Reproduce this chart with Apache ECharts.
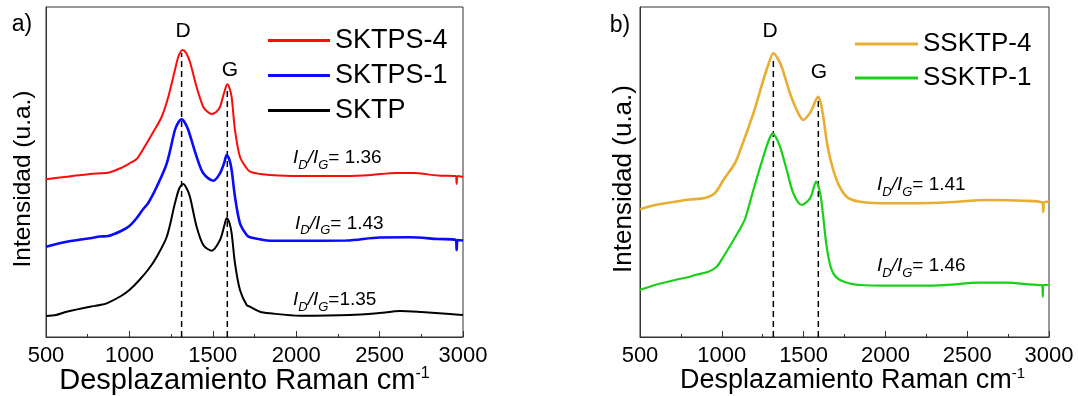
<!DOCTYPE html>
<html>
<head>
<meta charset="utf-8">
<script src="https://cdn.jsdelivr.net/npm/echarts@6/dist/echarts.min.js"></script>
<style>
html,body{margin:0;padding:0;background:#fff;}
#c{width:1078px;height:396px;}
</style>
</head>
<body>
<div id="c"></div>
<script>
// x ticks
const xTicks = [500, 1000, 1500, 2000, 2500, 3000];
// Panel a) spectra [Raman shift cm-1, intensity a.u. (offset)]
const sktps4 = [[500,157.7],[624,160.3],[764,163],[824,163.7],[873,164.3],[950,169],[1000,173.5],[1043,178],[1083,188],[1143,205],[1193,220],[1233,240],[1273,267],[1295,281],[1319,287],[1340,284],[1363,275],[1403,250],[1443,230],[1470,225],[1493,223],[1520,225],[1543,230],[1567,243.7],[1587,252.7],[1600,249],[1613,240],[1633,207],[1663,180],[1703,168.7],[1723,165.3],[1783,163],[1843,162],[2000,161],[2300,161],[2450,162],[2600,164],[2700,164],[2850,161.5],[2956,161],[2962,153],[2967,161],[3000,160]];
const sktps1 = [[500,90.3],[624,95.3],[764,98.7],[824,100.5],[873,101],[950,106],[1000,111],[1043,118.7],[1083,128],[1113,134],[1164,150.3],[1224,173.7],[1273,207],[1295,215],[1313,217.7],[1330,215],[1353,207],[1403,180.3],[1443,163.7],[1503,156.3],[1543,163.7],[1570,175],[1583,182],[1600,177],[1613,167],[1633,140.3],[1663,113.7],[1703,102],[1723,99.7],[1783,97.7],[1843,96.3],[2000,96.3],[2300,96.5],[2500,99.5],[2680,99.7],[2850,98],[2956,97],[2962,87],[2967,97],[3000,96.5]];
const sktp = [[500,21],[560,22],[624,25.3],[764,30.3],[824,32],[864,33.7],[950,41],[1000,47],[1060,57],[1120,69],[1164,80.3],[1224,100.3],[1273,133.7],[1300,149],[1323,153],[1345,148],[1363,140.3],[1403,110.3],[1443,92],[1493,86.3],[1543,97],[1570,112],[1583,118.7],[1600,114],[1613,103.7],[1633,73.7],[1663,47],[1703,32],[1723,30.3],[1783,25.3],[1843,23.7],[2023,21.3],[2323,22],[2500,24],[2622,26],[2750,25],[2922,23],[3000,22]];
// Panel b) spectra
const ssktp4 = [[500,127.7],[592,132],[714,135.3],[806,137.5],[897,139],[958,144],[1010,157],[1081,174],[1111,186],[1193,223.7],[1254,257],[1290,275],[1315,283.7],[1340,279],[1366,270.3],[1417,243.7],[1458,227],[1498,217],[1530,222],[1549,227],[1575,237],[1590,240.3],[1605,234],[1620,220.3],[1651,187],[1702,157],[1763,140.3],[1845,135.3],[2028,133.7],[2334,134.3],[2639,137],[2841,136.3],[2960,134.3],[2965,125.3],[2970,135],[3000,135.3]];
const ssktp1 = [[500,47],[592,52],[714,57],[806,60.3],[836,62],[917,65.3],[969,70.3],[1009,80],[1050,91],[1111,108],[1142,118],[1193,147],[1254,180.3],[1290,198],[1311,203.7],[1330,200],[1356,190.3],[1397,167],[1437,143.7],[1488,132],[1539,138.7],[1565,151],[1576,155.3],[1590,151],[1605,140.3],[1620,120.3],[1641,90.3],[1672,67],[1722,57],[1845,52],[2028,51.3],[2334,51.7],[2578,54.3],[2741,54.3],[2945,52],[2958,52],[2962,40.3],[2966,52],[3000,52]];
// D / G band guide lines [x, yTop]
const bandsA = {D:[1313,284], G:[1587,247]};
const bandsB = {D:[1315,280], G:[1590,239]};
// I_D/I_G ratios
const ratiosA = ['= 1.36','= 1.43','=1.35'];
const ratiosB = ['= 1.41','= 1.46'];

const FF = '"Liberation Sans", Arial, Helvetica, sans-serif';
const chart = echarts.init(document.getElementById('c'), null, {renderer:'canvas'});

function xAx(idx, fs, pad){
  return {
    type:'value', gridIndex:idx, min:xTicks[0], max:xTicks[xTicks.length-1], interval:xTicks[1]-xTicks[0],
    axisLine:{show:true, lineStyle:{color:'#333', width:1}},
    axisTick:{show:true, inside:true, length:6, lineStyle:{color:'#333'}},
    minorTick:{show:true, splitNumber:2, length:3, lineStyle:{color:'#333'}},
    splitLine:{show:false}, minorSplitLine:{show:false},
    axisLabel:{show:true, margin:8, fontSize:22, color:'#000', fontFamily:FF,
      formatter:function(v){return String(v);}},
    name:'{t|Desplazamiento Raman cm}{s|-1}', nameLocation:'middle', nameGap:29, nameMoveOverlap:false,
    nameTextStyle:{padding:pad, rich:{
      t:{fontSize:fs, fontFamily:FF, color:'#000', lineHeight:30, verticalAlign:'middle'},
      s:{fontSize:Math.round(fs*0.55), fontFamily:FF, color:'#000', lineHeight:30, verticalAlign:'top'}
    }}
  };
}
function yAx(idx, gap, fs, pad){
  return {
    type:'value', gridIndex:idx, min:0, max:330,
    axisLine:{show:true, lineStyle:{color:'#333', width:1}},
    axisTick:{show:false}, axisLabel:{show:false}, splitLine:{show:false},
    name:'Intensidad (u.a.)', nameLocation:'middle', nameGap:gap,
    nameTextStyle:{fontSize:fs, fontFamily:FF, color:'#000', padding:pad}
  };
}
function spec(name, data, color, w, xi){
  return {name:name, type:'line', data:data, xAxisIndex:xi, yAxisIndex:xi,
    showSymbol:false, smooth:0.3, lineStyle:{color:color, width:w}, itemStyle:{color:color},
    emphasis:{disabled:true}, z:3};
}
function guide(b, xi){
  return {type:'line', xAxisIndex:xi, yAxisIndex:xi, showSymbol:false, silent:true,
    data:[[b[0],0],[b[0],b[1]]], lineStyle:{color:'#000', width:1.5, type:[6,4]}, z:2};
}
function ratioText(x, y, val){
  return {type:'text', x:x, y:y, silent:true, style:{
    text:'{i|I}{s|D}{i|/I}{s|G}{n|'+val+'}', verticalAlign:'middle', textVerticalAlign:'middle',
    rich:{
      i:{fontSize:19, fontStyle:'italic', fontFamily:FF, fill:'#000', color:'#000', lineHeight:28, verticalAlign:'middle'},
      s:{fontSize:13, fontStyle:'italic', fontFamily:FF, fill:'#000', color:'#000', lineHeight:28, verticalAlign:'bottom'},
      n:{fontSize:19, fontFamily:FF, fill:'#000', color:'#000', lineHeight:28, verticalAlign:'middle'}
    }}};
}
function label(x, y, t, fs){
  return {type:'text', x:x, y:y, silent:true, style:{text:t, fontSize:fs, fontFamily:FF, fill:'#000',
    align:'center', verticalAlign:'middle', textAlign:'center', textVerticalAlign:'middle'}};
}

const option = {
  animation:false,
  backgroundColor:'#fff',
  grid:[
    {left:46, right:615, top:7, bottom:59, show:true, borderColor:'#333', borderWidth:1, outerBoundsMode:'none', containLabel:false},
    {left:640, right:29, top:7, bottom:59, show:true, borderColor:'#333', borderWidth:1, outerBoundsMode:'none', containLabel:false}
  ],
  xAxis:[xAx(0, 29, [0,20,0,0]), xAx(1, 27, [0,0,0,16])],
  yAxis:[yAx(0, 10, 24.5, [0,14,0,0]), yAx(1, 3, 26, [0,14,0,0])],
  legend:[
    {data:['SKTPS-4','SKTPS-1','SKTP'], orient:'vertical', left:263, top:22, icon:'rect',
     itemWidth:62, itemHeight:3, itemGap:8, selectedMode:false,
     textStyle:{fontSize:27, fontFamily:FF, color:'#000', lineHeight:26}},
    {data:['SSKTP-4','SSKTP-1'], orient:'vertical', left:850, top:26, icon:'rect',
     itemWidth:63, itemHeight:3, itemGap:8, selectedMode:false,
     textStyle:{fontSize:26, fontFamily:FF, color:'#000', lineHeight:26}}
  ],
  series:[
    guide(bandsA.D,0), guide(bandsA.G,0), guide(bandsB.D,1), guide(bandsB.G,1),
    spec('SKTP', sktp, '#000000', 2, 0),
    spec('SKTPS-1', sktps1, '#0a0aff', 2.6, 0),
    spec('SKTPS-4', sktps4, '#ff0a0a', 2, 0),
    spec('SSKTP-1', ssktp1, '#18d018', 2.2, 1),
    spec('SSKTP-4', ssktp4, '#e8ae34', 2.6, 1)
  ],
  graphic:[
    label(22, 25, 'a)', 23), label(620, 26, 'b)', 23),
    label(183, 31, 'D', 21), label(230, 70, 'G', 21),
    label(770, 31, 'D', 21), label(819, 72, 'G', 21),
    ratioText(293, 157.5, ratiosA[0]), ratioText(295, 223.3, ratiosA[1]), ratioText(293, 300, ratiosA[2]),
    ratioText(877, 185, ratiosB[0]), ratioText(877, 266, ratiosB[1])
  ]
};
chart.setOption(option);
</script>
</body>
</html>
